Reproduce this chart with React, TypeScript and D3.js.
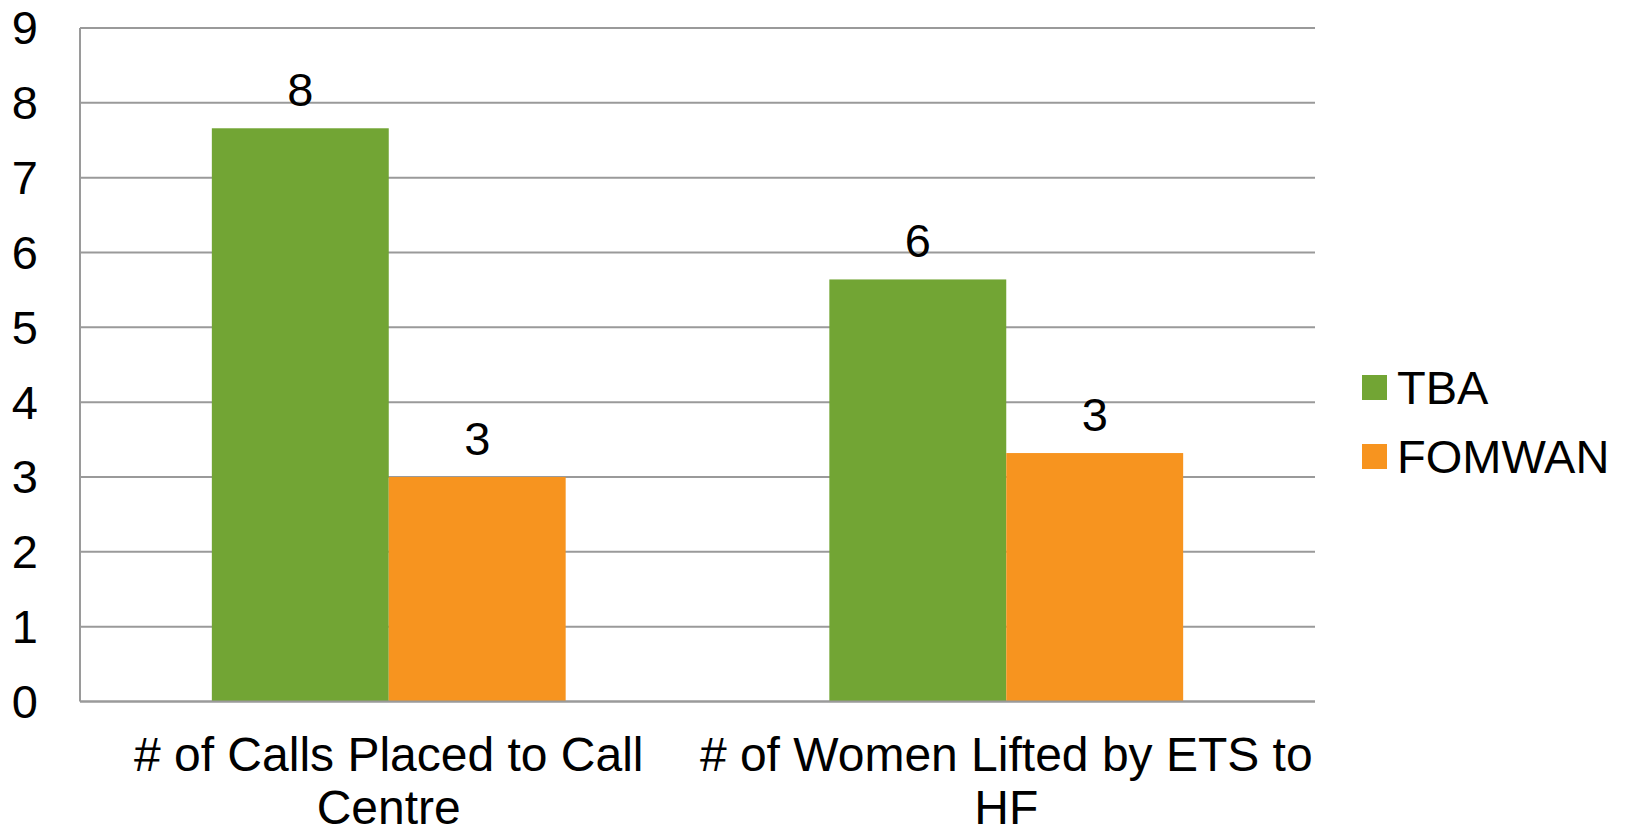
import { useEffect, useRef } from 'react';
import * as d3 from 'd3';

// values (labels on the bars are rounded)
const categories = ['# of Calls Placed to Call Centre', '# of Women Lifted by ETS to HF'];
const categoryLines = [
  ['# of Calls Placed to Call', 'Centre'],
  ['# of Women Lifted by ETS to', 'HF'],
];
const seriesNames = ['TBA', 'FOMWAN'];
const seriesColors = ['#72a534', '#f7941f'];
const tbaValues = [7.66, 5.64];
const fomwanValues = [3.0, 3.32];
const tbaLabels = ['8', '6'];
const fomwanLabels = ['3', '3'];
const yTicks = [0, 1, 2, 3, 4, 5, 6, 7, 8, 9];

export default function App() {
  const svgRef = useRef<SVGSVGElement>(null);

  useEffect(() => {
    if (!svgRef.current) return;
    const svg = d3.select(svgRef.current);
    svg.selectAll('*').remove();

    const W = 1627;
    const H = 835;
    const left = 80, right = 1315, top = 28, bottom = 701.5;
    const font = '"Liberation Sans", Arial, sans-serif';

    svg.attr('width', W).attr('height', H);

    const x = d3.scaleBand<string>()
      .domain(categories)
      .range([left, right])
      .paddingInner(0.427)
      .paddingOuter(0.2135);

    const xs = d3.scaleBand<string>()
      .domain(seriesNames)
      .range([0, x.bandwidth()])
      .padding(0);

    const y = d3.scaleLinear().domain([0, 9]).range([bottom, top]);

    // gridlines
    svg.append('g')
      .selectAll('line')
      .data(yTicks)
      .enter().append('line')
      .attr('x1', left)
      .attr('x2', right)
      .attr('y1', d => y(d))
      .attr('y2', d => y(d))
      .attr('stroke', '#9a9a9a')
      .attr('stroke-width', 2);

    // left axis line
    svg.append('line')
      .attr('x1', left).attr('x2', left)
      .attr('y1', top).attr('y2', bottom)
      .attr('stroke', '#9a9a9a')
      .attr('stroke-width', 2);

    // y tick labels
    svg.append('g')
      .selectAll('text')
      .data(yTicks)
      .enter().append('text')
      .attr('x', 38)
      .attr('y', d => y(d))
      .attr('dy', '0.35em')
      .attr('text-anchor', 'end')
      .style('font-family', font)
      .style('font-size', '47px')
      .attr('fill', '#000')
      .text(d => String(d));

    const series = [
      { name: seriesNames[0], values: tbaValues, labels: tbaLabels, color: seriesColors[0] },
      { name: seriesNames[1], values: fomwanValues, labels: fomwanLabels, color: seriesColors[1] },
    ];

    series.forEach(s => {
      const g = svg.append('g');
      g.selectAll('rect')
        .data(categories)
        .enter().append('rect')
        .attr('x', (c) => (x(c) ?? 0) + (xs(s.name) ?? 0))
        .attr('y', (_c, i) => y(s.values[i]))
        .attr('width', xs.bandwidth())
        .attr('height', (_c, i) => bottom - y(s.values[i]))
        .attr('fill', s.color);

      g.selectAll('text')
        .data(categories)
        .enter().append('text')
        .attr('x', (c) => (x(c) ?? 0) + (xs(s.name) ?? 0) + xs.bandwidth() / 2)
        .attr('y', (_c, i) => y(s.values[i]) - 22)
        .attr('text-anchor', 'middle')
        .style('font-family', font)
        .style('font-size', '47px')
        .attr('fill', '#000')
        .text((_c, i) => s.labels[i]);
    });

    // baseline redrawn on top of bars
    svg.append('line')
      .attr('x1', left).attr('x2', right)
      .attr('y1', bottom).attr('y2', bottom)
      .attr('stroke', '#9a9a9a')
      .attr('stroke-width', 2);

    // category labels
    categories.forEach((c, i) => {
      const cx = (x(c) ?? 0) + x.bandwidth() / 2;
      svg.append('text')
        .attr('text-anchor', 'middle')
        .style('font-family', font)
        .style('font-size', '48px')
        .attr('fill', '#000')
        .selectAll('tspan')
        .data(categoryLines[i])
        .enter().append('tspan')
        .attr('x', cx)
        .attr('y', (_d, j) => 771 + j * 53)
        .text(d => d);
    });

    // legend
    const legend = svg.append('g');
    series.forEach((s, i) => {
      const ly = 387.5 + i * 69;
      legend.append('rect')
        .attr('x', 1362)
        .attr('y', ly - 12.5)
        .attr('width', 25)
        .attr('height', 25)
        .attr('fill', s.color);
      legend.append('text')
        .attr('x', 1397)
        .attr('y', ly + 16)
        .style('font-family', font)
        .style('font-size', '47px')
        .attr('fill', '#000')
        .text(s.name);
    });
  }, []);

  return (
    <svg
      ref={svgRef}
      style={{ position: 'absolute', left: 0, top: 0, background: '#fff' }}
    />
  );
}
